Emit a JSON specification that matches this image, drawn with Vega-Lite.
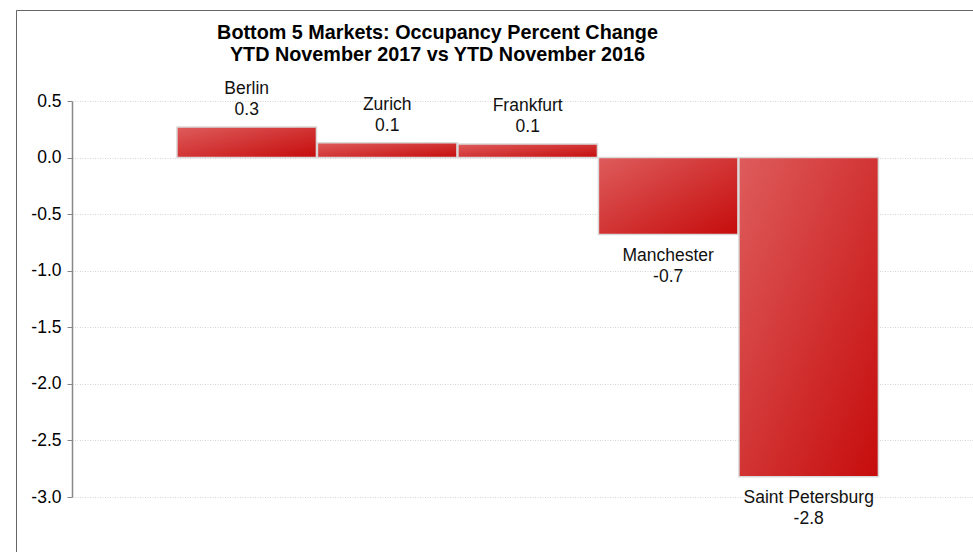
{
  "$schema": "https://vega.github.io/schema/vega-lite/v6.json",
  "autosize": "none",
  "padding": {"left": 16, "top": 10, "right": 0, "bottom": 0},
  "width": 957,
  "height": 542,
  "background": "white",
  "config": {
    "view": {"stroke": "#666666", "strokeWidth": 1, "strokeDash": [957, 1499, 542, 3000]},
    "font": "Liberation Sans",
    "locale": {"number": {"decimal": ".", "thousands": ",", "grouping": [3], "currency": ["$", ""], "minus": "-"}}
  },
  "title": {
    "text": ["Bottom 5 Markets: Occupancy Percent Change", "YTD November 2017 vs YTD November 2016"],
    "font": "Liberation Sans",
    "fontSize": 19.8,
    "fontWeight": "bold",
    "color": "#000000",
    "anchor": "middle",
    "frame": "group",
    "dx": -57,
    "offset": -55,
    "lineHeight": 22
  },
  "data": {
    "values": [
      {"market": "Berlin", "change": 0.27},
      {"market": "Zurich", "change": 0.13},
      {"market": "Frankfurt", "change": 0.12},
      {"market": "Manchester", "change": -0.68},
      {"market": "Saint Petersburg", "change": -2.82}
    ]
  },
  "encoding": {
    "x": {
      "field": "market",
      "type": "nominal",
      "sort": null,
      "axis": null,
      "scale": {"range": [56, 957], "paddingInner": 0.007, "paddingOuter": 0.71, "align": 0.526}
    },
    "y": {
      "field": "change",
      "type": "quantitative",
      "scale": {"domain": [-3, 0.5], "range": [487, 91], "nice": false, "zero": true},
      "axis": {
        "title": null,
        "values": [-3, -2.5, -2, -1.5, -1, -0.5, 0, 0.5],
        "format": ".1f",
        "offset": -56,
        "labelFontSize": 17.5,
        "labelColor": "#000000",
        "labelFont": "Liberation Sans",
        "labelPadding": 6,
        "tickSize": 5,
        "tickColor": "#888888",
        "domainColor": "#888888",
        "domainWidth": 1.5,
        "grid": true,
        "gridColor": "#d4d4d4",
        "gridDash": [1, 1.5],
        "gridWidth": 1
      }
    }
  },
  "layer": [
    {
      "mark": {
        "type": "bar",
        "stroke": "#d9d9d9",
        "strokeWidth": 1.5,
        "color": {
          "gradient": "linear",
          "x1": 0, "y1": 0, "x2": 1, "y2": 1,
          "stops": [
            {"offset": 0, "color": "#de5c5c"},
            {"offset": 1, "color": "#c60c0c"}
          ]
        }
      }
    },
    {
      "transform": [{"filter": "datum.change >= 0"}],
      "mark": {"type": "text", "baseline": "alphabetic", "dy": -33, "fontSize": 17.5, "color": "#111111"},
      "encoding": {"text": {"field": "market"}}
    },
    {
      "transform": [{"filter": "datum.change >= 0"}],
      "mark": {"type": "text", "baseline": "alphabetic", "dy": -12, "fontSize": 17.5, "color": "#111111"},
      "encoding": {"text": {"field": "change", "format": ".1f"}}
    },
    {
      "transform": [{"filter": "datum.change < 0"}],
      "mark": {"type": "text", "baseline": "alphabetic", "dy": 26, "fontSize": 17.5, "color": "#111111"},
      "encoding": {"text": {"field": "market"}}
    },
    {
      "transform": [{"filter": "datum.change < 0"}],
      "mark": {"type": "text", "baseline": "alphabetic", "dy": 47, "fontSize": 17.5, "color": "#111111"},
      "encoding": {"text": {"field": "change", "format": ".1f"}}
    }
  ]
}
